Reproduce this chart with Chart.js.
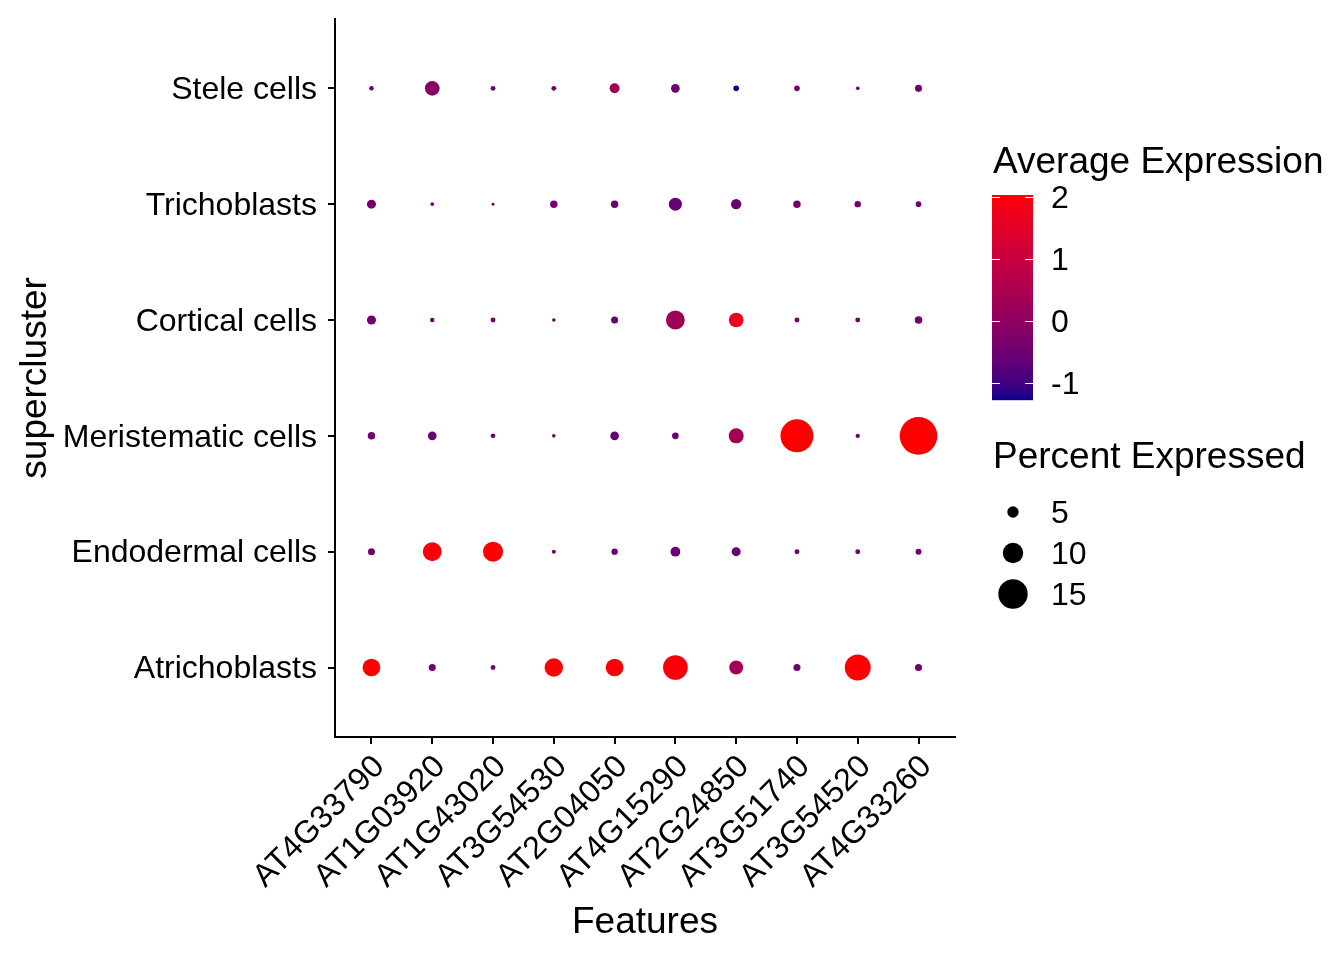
<!DOCTYPE html>
<html>
<head>
<meta charset="utf-8">
<script src="https://cdn.jsdelivr.net/npm/chart.js@4.4.1/dist/chart.umd.min.js"></script>
<style>
  html, body { margin: 0; padding: 0; background: #ffffff; }
  #c { display: block; }
</style>
</head>
<body>
<canvas id="c" width="1344" height="960"></canvas>
<script>
// ---------- DATA ----------
const features = ['AT4G33790','AT1G03920','AT1G43020','AT3G54530','AT2G04050','AT4G15290','AT2G24850','AT3G51740','AT3G54520','AT4G33260'];
// bottom to top
const clusters = ['Atrichoblasts','Endodermal cells','Meristematic cells','Cortical cells','Trichoblasts','Stele cells'];

// Percent expressed, one array per cluster (in feature order)
const pctAtrichoblasts = [8.5, 2.6, 1.4, 8.9, 8.5, 12.4, 6.4, 2.6, 13.1, 2.6];
const pctEndodermal    = [2.6, 9.2, 9.8, 0.9, 2.2, 4.1, 3.7, 1.4, 1.4, 2.0];
const pctMeristematic  = [2.8, 3.5, 1.3, 0.7, 3.5, 2.4, 7.0, 17.0, 1.1, 19.6];
const pctCortical      = [3.7, 1.1, 1.4, 0.7, 2.6, 9.1, 6.8, 1.4, 1.4, 2.9];
const pctTrichoblasts  = [3.7, 0.7, 0.3, 2.8, 2.8, 5.9, 4.4, 2.8, 2.2, 1.8];
const pctStele         = [1.2, 6.8, 1.4, 1.4, 4.2, 3.5, 1.8, 1.8, 0.7, 2.6];

// Average (scaled) expression, one array per cluster
const expAtrichoblasts = [2.03, -0.45, -0.41, 2.04, 1.95, 1.95, 0.30, -0.41, 2.04, -0.41];
const expEndodermal    = [-0.42, 1.95, 2.04, -0.41, -0.56, -0.55, -0.55, -0.41, -0.41, -0.41];
const expMeristematic  = [-0.41, -0.45, -0.41, -0.41, -0.56, -0.55, 0.35, 2.04, -0.41, 2.04];
const expCortical      = [-0.42, -0.46, -0.41, -0.41, -0.56, 0.25, 1.70, -0.41, -0.41, -0.41];
const expTrichoblasts  = [-0.38, -0.46, -0.41, -0.41, -0.56, -0.60, -0.50, -0.41, -0.41, -0.41];
const expStele         = [-0.41, -0.13, -0.41, -0.41, 0.25, -0.50, -1.28, -0.41, -0.41, -0.41];

const colorTicks = [-1, 0, 1, 2];
const sizeLegendValues = [5, 10, 15];

const pctRows = [pctAtrichoblasts, pctEndodermal, pctMeristematic, pctCortical, pctTrichoblasts, pctStele];
const expRows = [expAtrichoblasts, expEndodermal, expMeristematic, expCortical, expTrichoblasts, expStele];

// ---------- COLOUR (Lab interpolation darkblue -> red, like ggplot) ----------
function srgbToLin(c){ c/=255; return c<=0.04045? c/12.92 : Math.pow((c+0.055)/1.055,2.4); }
function linToSrgb(c){ c = Math.max(0, Math.min(1, c)); const v = c<=0.0031308? 12.92*c : 1.055*Math.pow(c,1/2.4)-0.055; return Math.round(Math.max(0,Math.min(1,v))*255); }
const Xn=0.95047, Yn=1.0, Zn=1.08883;
function f(t){ return t>0.008856? Math.cbrt(t) : 7.787*t+16/116; }
function finv(t){ return t>0.206893? t*t*t : (t-16/116)/7.787; }
function rgbToLab(r,g,b){
  const R=srgbToLin(r),G=srgbToLin(g),B=srgbToLin(b);
  const X=0.4124*R+0.3576*G+0.1805*B, Y=0.2126*R+0.7152*G+0.0722*B, Z=0.0193*R+0.1192*G+0.9505*B;
  const fx=f(X/Xn), fy=f(Y/Yn), fz=f(Z/Zn);
  return [116*fy-16, 500*(fx-fy), 200*(fy-fz)];
}
function labToRgb(L,a,b){
  const fy=(L+16)/116, fx=fy+a/500, fz=fy-b/200;
  const X=Xn*finv(fx), Y=Yn*finv(fy), Z=Zn*finv(fz);
  const R= 3.2406*X-1.5372*Y-0.4986*Z, G=-0.9689*X+1.8758*Y+0.0415*Z, B=0.0557*X-0.2040*Y+1.0570*Z;
  return 'rgb('+linToSrgb(R)+','+linToSrgb(G)+','+linToSrgb(B)+')';
}
const labLow = rgbToLab(0,0,139), labHigh = rgbToLab(255,0,0);
const allExp = expRows.flat();
const vMin = Math.min(...allExp), vMax = Math.max(...allExp);
function colorFor(v){
  let t=(v-vMin)/(vMax-vMin); t=Math.max(0,Math.min(1,t));
  return labToRgb(labLow[0]+(labHigh[0]-labLow[0])*t, labLow[1]+(labHigh[1]-labLow[1])*t, labLow[2]+(labHigh[2]-labLow[2])*t);
}
function diameterFor(p){ return 2.4 + 1.8*p; }

// ---------- BUILD POINTS ----------
const points = [];
clusters.forEach((cl, ci) => {
  features.forEach((ft, fi) => {
    points.push({x: fi, y: ci, p: pctRows[ci][fi], v: expRows[ci][fi]});
  });
});

const FONT = "'Liberation Sans', Arial, Helvetica, sans-serif";

const PLOT_LEFT = 335, PLOT_RIGHT = 955, PLOT_TOP = 18, PLOT_BOTTOM = 737;

const legendPlugin = {
  id: 'dotLegend',
  afterDraw(chart){
    const ctx = chart.ctx;
    ctx.save();
    ctx.fillStyle = '#000';
    ctx.font = '37px ' + FONT;
    ctx.textAlign = 'left';
    ctx.textBaseline = 'alphabetic';
    ctx.fillText('Average Expression', 993, 173);
    // colour bar
    const bx = 992, bw = 41, bTop = 195, bBot = 400;
    const H = bBot - bTop;
    for (let i = 0; i < H; i++){
      const v = vMax - (i + 0.5) / H * (vMax - vMin);
      ctx.fillStyle = colorFor(v);
      ctx.fillRect(bx, bTop + i, bw, 1.2);
    }
    const yOf = v => bBot - (v - vMin) / (vMax - vMin) * H;
    ctx.strokeStyle = '#ffffff';
    ctx.lineWidth = 1;
    ctx.font = '32px ' + FONT;
    ctx.textBaseline = 'middle';
    colorTicks.forEach(t => {
      const y = Math.round(yOf(t)) + 0.5;
      ctx.beginPath();
      ctx.moveTo(bx, y); ctx.lineTo(bx + 8, y);
      ctx.moveTo(bx + bw - 8, y); ctx.lineTo(bx + bw, y);
      ctx.stroke();
      ctx.fillStyle = '#000';
      ctx.fillText(String(t), 1051, y + 2);
    });
    // size legend
    ctx.font = '37px ' + FONT;
    ctx.textBaseline = 'alphabetic';
    ctx.fillText('Percent Expressed', 993, 468);
    ctx.font = '32px ' + FONT;
    ctx.textBaseline = 'middle';
    const ys = [512, 553, 594];
    sizeLegendValues.forEach((s, i) => {
      ctx.beginPath();
      ctx.fillStyle = '#000';
      ctx.arc(1013, ys[i], diameterFor(s) / 2, 0, Math.PI * 2);
      ctx.fill();
      ctx.fillText(String(s), 1051, ys[i] + 2);
    });
    ctx.restore();
  }
};

function zeroPad(s){ s.paddingTop = 0; s.paddingBottom = 0; s.paddingLeft = 0; s.paddingRight = 0; }

new Chart(document.getElementById('c'), {
  type: 'scatter',
  data: {
    datasets: [{
      data: points,
      pointRadius: ctx => ctx.raw ? diameterFor(ctx.raw.p) / 2 : 0,
      pointHoverRadius: ctx => ctx.raw ? diameterFor(ctx.raw.p) / 2 : 0,
      pointBackgroundColor: ctx => ctx.raw ? colorFor(ctx.raw.v) : '#000',
      pointBorderWidth: 0,
      pointBorderColor: 'rgba(0,0,0,0)'
    }]
  },
  options: {
    responsive: false,
    animation: false,
    devicePixelRatio: 1,
    events: [],
    layout: { padding: { left: 0, top: PLOT_TOP, right: 1344 - PLOT_RIGHT, bottom: 0 } },
    plugins: { legend: { display: false }, tooltip: { enabled: false } },
    scales: {
      x: {
        type: 'linear',
        min: -0.6, max: 9.6,
        afterBuildTicks: s => { s.ticks = features.map((_, i) => ({ value: i })); },
        afterFit: s => { s.height = 960 - PLOT_BOTTOM; zeroPad(s); },
        ticks: {
          autoSkip: false, maxRotation: 45, minRotation: 45,
          color: '#000', font: { family: FONT, size: 32 }, padding: 4, labelOffset: 8,
          callback: v => features[v]
        },
        grid: { drawOnChartArea: false, drawTicks: true, tickLength: 7, color: '#000', lineWidth: 2 },
        border: { display: true, color: '#000', width: 2 },
        title: { display: true, text: 'Features', color: '#000', font: { family: FONT, size: 37 }, padding: { top: 0, bottom: 15 } }
      },
      y: {
        type: 'linear',
        min: -0.6, max: 5.6,
        afterBuildTicks: s => { s.ticks = clusters.map((_, i) => ({ value: i })); },
        afterFit: s => { s.width = PLOT_LEFT; zeroPad(s); },
        ticks: {
          autoSkip: false, color: '#000', font: { family: FONT, size: 32 }, padding: 11, labelOffset: 2,
          callback: v => clusters[v]
        },
        grid: { drawOnChartArea: false, drawTicks: true, tickLength: 7, color: '#000', lineWidth: 2 },
        border: { display: true, color: '#000', width: 2 },
        title: { display: true, text: 'supercluster', color: '#000', font: { family: FONT, size: 37 }, padding: { top: 14, bottom: 0 } }
      }
    }
  },
  plugins: [legendPlugin]
});
</script>
</body>
</html>
